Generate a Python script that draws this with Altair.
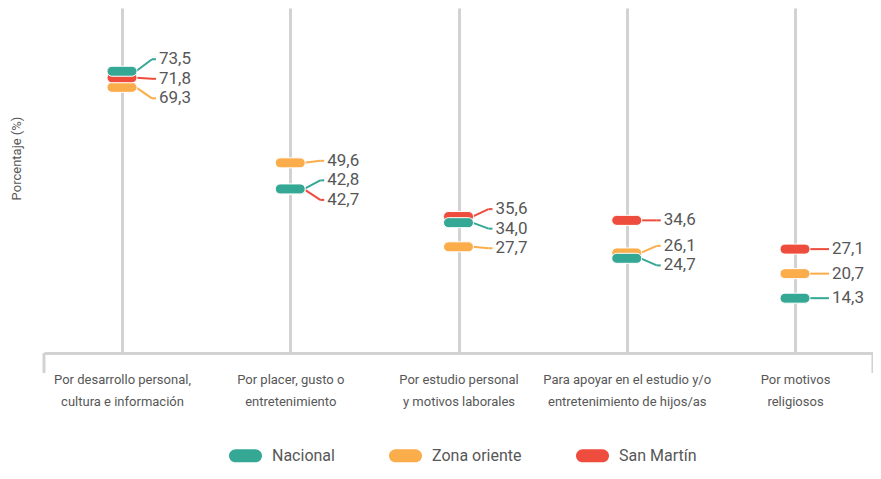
import altair as alt
import pandas as pd

# ---- data ----
categories = [
    "Por desarrollo personal,\ncultura e información",
    "Por placer, gusto o\nentretenimiento",
    "Por estudio personal\ny motivos laborales",
    "Para apoyar en el estudio y/o\nentretenimiento de hijos/as",
    "Por motivos\nreligiosos",
]
series = ["Nacional", "Zona oriente", "San Martín"]
nacional = [73.5, 42.8, 34.0, 24.7, 14.3]
zona_oriente = [69.3, 49.6, 27.7, 26.1, 20.7]
san_martin = [71.8, 42.7, 35.6, 34.6, 27.1]
colors = ["#35a895", "#fbac4b", "#ee4c3c"]

values = {"Nacional": nacional, "Zona oriente": zona_oriente, "San Martín": san_martin}
draw_order = ["Zona oriente", "San Martín", "Nacional"]

# ---- label dodging (computed, in data units) ----
GAP = 5.1


def dodge(vals, gap):
    items = sorted(vals.items(), key=lambda kv: -kv[1])
    clusters = [[kv] for kv in items]

    def positions(cl):
        c = sum(v for _, v in cl) / len(cl)
        n = len(cl)
        return [c + gap * ((n - 1) / 2 - k) for k in range(n)]

    changed = True
    while changed:
        changed = False
        for i in range(len(clusters) - 1):
            lo_upper = positions(clusters[i])[-1]
            hi_lower = positions(clusters[i + 1])[0]
            if lo_upper - hi_lower < gap:
                clusters[i] = clusters[i] + clusters[i + 1]
                del clusters[i + 1]
                changed = True
                break
    out = {}
    for cl in clusters:
        for (k, _), p in zip(cl, positions(cl)):
            out[k] = p
    return out


rows = []
for ci, cat in enumerate(categories):
    vals = {s: values[s][ci] for s in series}
    lp = dodge(vals, GAP)
    for s in draw_order:
        v = vals[s]
        rows.append({
            "cat": cat,
            "serie": s,
            "value": v,
            "labelpos": lp[s],
            "label": f"{v:.1f}".replace(".", ","),
        })
df = pd.DataFrame(rows)

FONT = "Roboto"
TXT = "#575757"
GRID = "#d2d2d2"
W, H = 829, 345

pill_path = ("M-0.6667,-0.3333 L0.6667,-0.3333 A0.3333,0.3333 0 0 1 0.6667,0.3333 "
             "L-0.6667,0.3333 A0.3333,0.3333 0 0 1 -0.6667,-0.3333 Z")
legend_path = ("M-0.6,-0.4 L0.6,-0.4 A0.4,0.4 0 0 1 0.6,0.4 "
               "L-0.6,0.4 A0.4,0.4 0 0 1 -0.6,-0.4 Z")

xenc = alt.X(
    "cat:N",
    sort=categories,
    scale=alt.Scale(type="point", domain=categories, padding=0.4636),
    axis=alt.Axis(
        title=None,
        labelExpr="split(datum.label, '\\n')",
        labelFontSize=13,
        labelLineHeight=22,
        labelPadding=20,
        labelLimit=400,
        labelColor=TXT,
        labelAngle=0,
        labelBaseline="top",
        ticks=False,
        domainColor=GRID,
        domainWidth=3,
        grid=True,
        gridColor=GRID,
        gridWidth=3,
    ),
)
yenc = alt.Y(
    "value:Q",
    scale=alt.Scale(domain=[0, 90]),
    axis=alt.Axis(
        title="Porcentaje (%)",
        labels=False,
        ticks=False,
        domain=False,
        grid=False,
        titleX=-28,
        titleY=150,
        titleAngle=270,
        titleAlign="center",
        titleBaseline="middle",
        titleFontSize=13,
        titleFontWeight="normal",
        titleColor=TXT,
    ),
)
color_scale = alt.Scale(domain=series, range=colors)

base = alt.Chart(df)

connector_layers = []
for s, c in zip(series, colors):
    sub = base.transform_filter(alt.datum.serie == s)
    connector_layers.append(
        sub.mark_rule(strokeWidth=2, xOffset=14, x2Offset=30, color=c).encode(
            x=xenc, x2="cat:N", y=yenc, y2="labelpos:Q"
        )
    )
    connector_layers.append(
        sub.mark_rule(strokeWidth=2, xOffset=30, x2Offset=34, color=c).encode(
            x=xenc, x2="cat:N", y=alt.Y("labelpos:Q")
        )
    )

pills = base.mark_point(
    shape=pill_path, filled=True, size=900, opacity=1, stroke="white", strokeWidth=1
).encode(
    x=xenc, y=yenc,
    color=alt.Color(
        "serie:N",
        scale=color_scale,
        legend=alt.Legend(
            title=None,
            orient="none",
            direction="horizontal",
            legendX=185,
            legendY=431,
            symbolType=legend_path,
            symbolSize=1089,
            symbolStrokeWidth=0,
            labelFontSize=16,
            labelColor=TXT,
            labelOffset=10,
            columnPadding=54,
        ),
    ),
)
labels = base.mark_text(align="left", baseline="middle", dx=37, fontSize=17, color=TXT).encode(
    x=xenc, y=alt.Y("labelpos:Q"), text="label:N"
)

ends = alt.Chart(pd.DataFrame({"k": [0]}))
end_l = ends.mark_rule(color=GRID, strokeWidth=3).encode(
    x=alt.value(0), y=alt.value(H), y2=alt.value(H + 20)
)
end_r = ends.mark_rule(color=GRID, strokeWidth=3).encode(
    x=alt.value(W), y=alt.value(H), y2=alt.value(H + 20)
)

chart = (
    alt.layer(end_l, end_r, *connector_layers, pills, labels)
    .properties(
        width=W,
        height=H,
        autosize=alt.AutoSizeParams(type="none"),
        padding={"left": 36, "top": 0, "right": 0, "bottom": 112},
    )
    .configure(font=FONT)
    .configure_view(stroke=None)
)

chart.save("out.html", embed_options={"renderer": "svg", "actions": False})
